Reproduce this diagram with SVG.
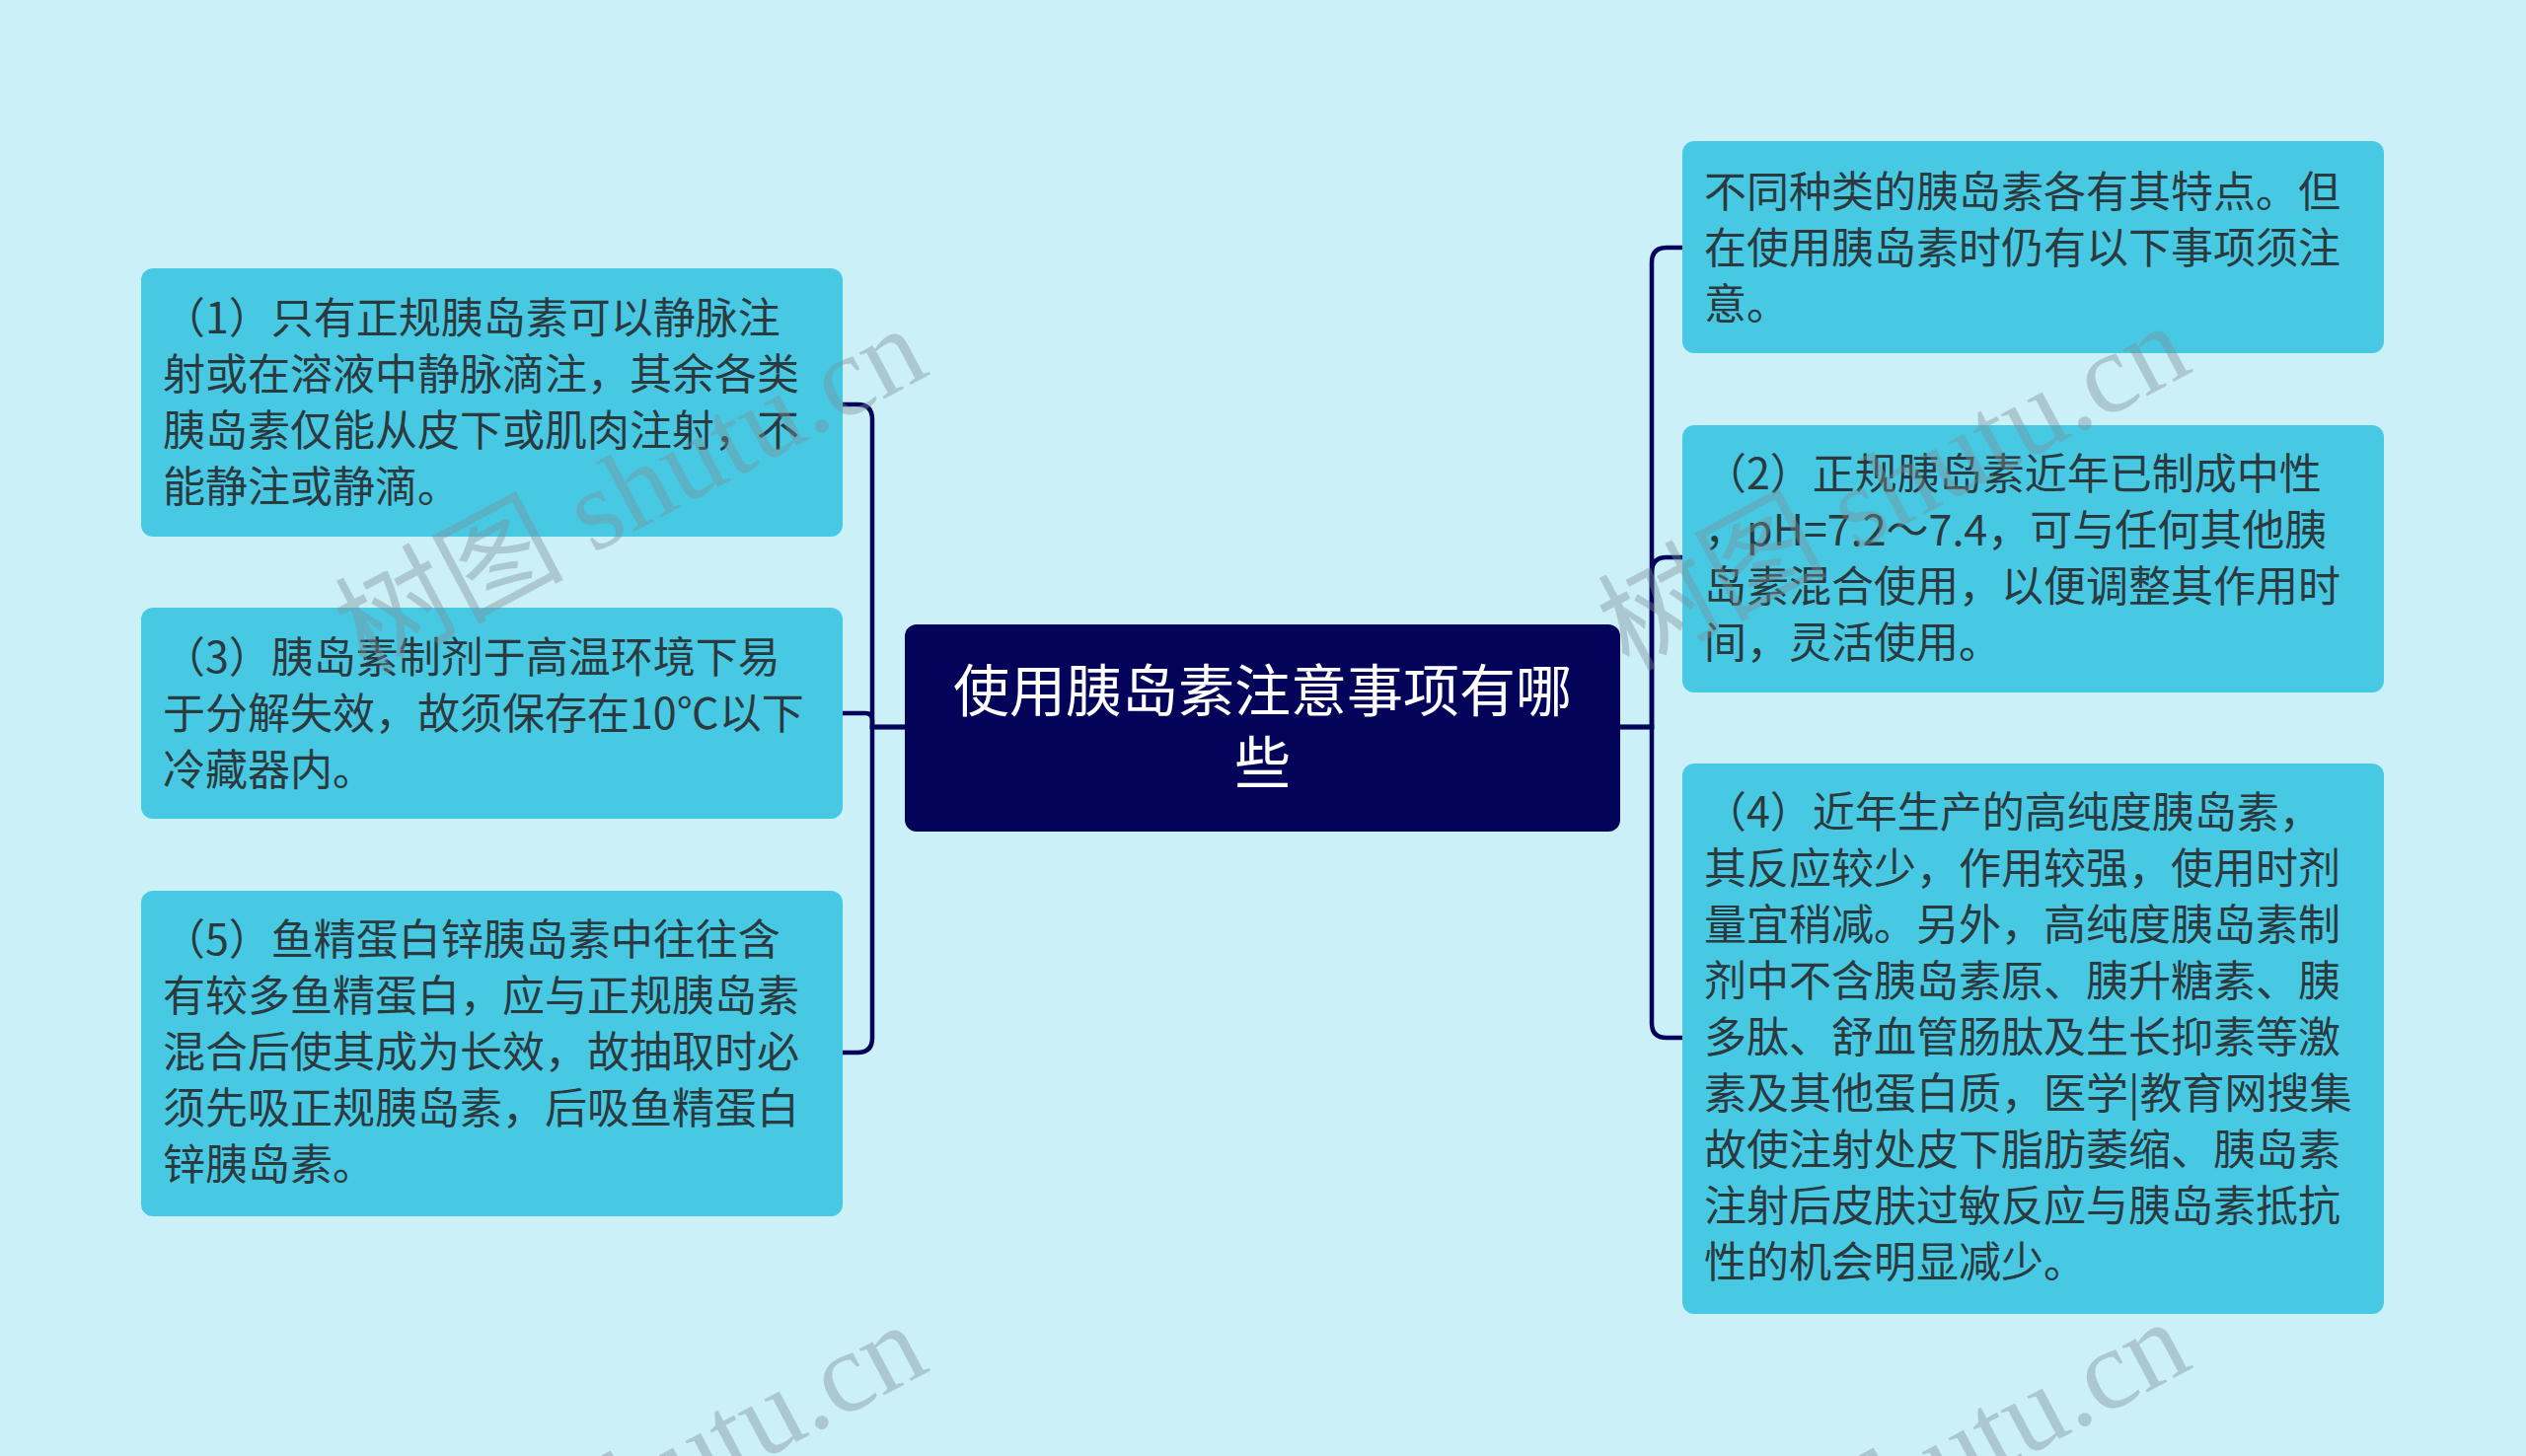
<svg xmlns="http://www.w3.org/2000/svg" width="2560" height="1476" viewBox="0 0 2560 1476">
<style>
.bg{fill:#cbf0f8}
.leaf{fill:#48c9e3}
.root{fill:#03035a}
.t{font-family:"Noto Sans CJK SC","Noto Sans",sans-serif;font-size:43px;fill:#2b3a3e}
.rt{font-family:"Noto Sans CJK SC","Noto Sans",sans-serif;font-size:57px;fill:#ffffff;text-anchor:middle}
.c{fill:none;stroke:#03035a;stroke-width:4.5}
.wm{font-family:"Liberation Serif","Noto Sans CJK SC",serif;font-size:116px;fill:#7d8f96;opacity:0.4}
</style>
<rect class="bg" x="0" y="0" width="2560" height="1476"/>
<g id="connectors">
<path class="c" d="M917,737 H884 V425 Q884,410 869,410 H854"/>
<path class="c" d="M917,737 H884 V730 Q884,723 877,723 H854"/>
<path class="c" d="M917,737 H884 V1052 Q884,1067 869,1067 H854"/>
<path class="c" d="M1642,737 H1674 V266 Q1674,251 1689,251 H1705"/>
<path class="c" d="M1642,737 H1674 V580 Q1674,565 1689,565 H1705"/>
<path class="c" d="M1642,737 H1674 V1037 Q1674,1052 1689,1052 H1705"/>
</g>
<g id="root">
<rect class="root" x="917" y="633" width="725" height="210" rx="12"/>
<text class="rt" x="1279.5" y="721">使用胰岛素注意事项有哪</text>
<text class="rt" x="1279.5" y="794">些</text>
</g>
<g id="n1">
<rect class="leaf" x="143" y="272" width="711" height="272" rx="12"/>
<text class="t" x="165" y="338">（1）只有正规胰岛素可以静脉注</text>
<text class="t" x="165" y="395">射或在溶液中静脉滴注，其余各类</text>
<text class="t" x="165" y="452">胰岛素仅能从皮下或肌肉注射，不</text>
<text class="t" x="165" y="509">能静注或静滴。</text>
</g>
<g id="n3">
<rect class="leaf" x="143" y="616" width="711" height="214" rx="12"/>
<text class="t" x="165" y="682">（3）胰岛素制剂于高温环境下易</text>
<text class="t" x="165" y="739">于分解失效，故须保存在10℃以下</text>
<text class="t" x="165" y="796">冷藏器内。</text>
</g>
<g id="n5">
<rect class="leaf" x="143" y="903" width="711" height="330" rx="12"/>
<text class="t" x="165" y="968">（5）鱼精蛋白锌胰岛素中往往含</text>
<text class="t" x="165" y="1025">有较多鱼精蛋白，应与正规胰岛素</text>
<text class="t" x="165" y="1082">混合后使其成为长效，故抽取时必</text>
<text class="t" x="165" y="1139">须先吸正规胰岛素，后吸鱼精蛋白</text>
<text class="t" x="165" y="1196">锌胰岛素。</text>
</g>
<g id="nA">
<rect class="leaf" x="1705" y="143" width="711" height="215" rx="12"/>
<text class="t" x="1727" y="210">不同种类的胰岛素各有其特点。但</text>
<text class="t" x="1727" y="267">在使用胰岛素时仍有以下事项须注</text>
<text class="t" x="1727" y="324">意。</text>
</g>
<g id="n2">
<rect class="leaf" x="1705" y="431" width="711" height="271" rx="12"/>
<text class="t" x="1727" y="496">（2）正规胰岛素近年已制成中性</text>
<text class="t" x="1727" y="553">，pH=7.2～7.4，可与任何其他胰</text>
<text class="t" x="1727" y="610">岛素混合使用，以便调整其作用时</text>
<text class="t" x="1727" y="667">间，灵活使用。</text>
</g>
<g id="n4">
<rect class="leaf" x="1705" y="774" width="711" height="558" rx="12"/>
<text class="t" x="1727" y="839">（4）近年生产的高纯度胰岛素，</text>
<text class="t" x="1727" y="896">其反应较少，作用较强，使用时剂</text>
<text class="t" x="1727" y="953">量宜稍减。另外，高纯度胰岛素制</text>
<text class="t" x="1727" y="1010">剂中不含胰岛素原、胰升糖素、胰</text>
<text class="t" x="1727" y="1067">多肽、舒血管肠肽及生长抑素等激</text>
<text class="t" x="1727" y="1124">素及其他蛋白质，医学|教育网搜集</text>
<text class="t" x="1727" y="1181">故使注射处皮下脂肪萎缩、胰岛素</text>
<text class="t" x="1727" y="1238">注射后皮肤过敏反应与胰岛素抵抗</text>
<text class="t" x="1727" y="1295">性的机会明显减少。</text>
</g>
<g id="watermarks">
<text class="wm" transform="translate(370,684) rotate(-28)">树图 shutu.cn</text>
<text class="wm" transform="translate(1650,681) rotate(-28)">树图 shutu.cn</text>
<text class="wm" transform="translate(370,1694) rotate(-28)">树图 shutu.cn</text>
<text class="wm" transform="translate(1650,1691) rotate(-28)">树图 shutu.cn</text>
</g>
</svg>
